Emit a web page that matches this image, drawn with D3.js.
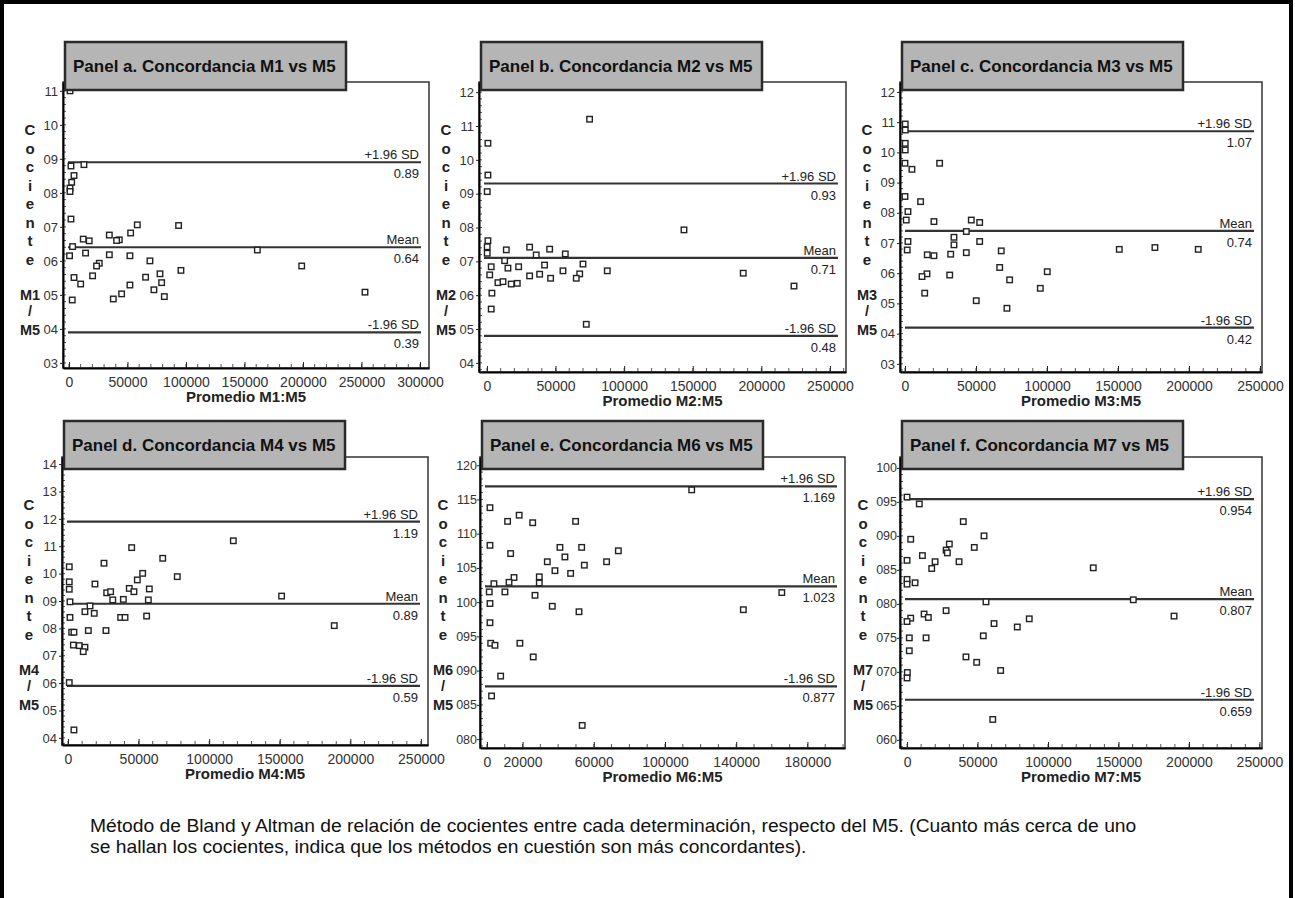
<!DOCTYPE html>
<html>
<head>
<meta charset="utf-8">
<script src="https://cdn.jsdelivr.net/npm/d3@7"></script>
<style>
body { margin: 0; background: #fff; }
svg { display: block; font-family: "Liberation Sans", Arial, Helvetica, sans-serif; }
</style>
</head>
<body>
<svg id="chart" width="1295" height="898"></svg>
<script>
// ---- data ----
var titles = ["Panel a. Concordancia M1 vs M5", "Panel b. Concordancia M2 vs M5", "Panel c. Concordancia M3 vs M5",
              "Panel d. Concordancia M4 vs M5", "Panel e. Concordancia M6 vs M5", "Panel f. Concordancia M7 vs M5"];
var methods = ["M1", "M2", "M3", "M4", "M6", "M7"];
var limitNames = ["+1.96 SD", "Mean", "-1.96 SD"];

var limitsA = [0.89, 0.64, 0.39];
var limitsB = [0.93, 0.71, 0.48];
var limitsC = [1.07, 0.74, 0.42];
var limitsD = [1.19, 0.89, 0.59];
var limitsE = [1.169, 1.023, 0.877];
var limitsF = [0.954, 0.807, 0.659];

var ptsA = [[1700,0.879],[12800,0.883],[4300,0.851],[2300,0.831],[900,0.814],[900,0.804],[1700,0.723],[12200,0.664],[17300,0.659],[34500,0.676],[43000,0.662],[40700,0.66],[52700,0.682],[58400,0.706],[93700,0.704],[3100,0.642],[500,0.615],[14200,0.623],[34500,0.618],[52100,0.615],[69200,0.6],[25900,0.593],[23600,0.585],[95700,0.572],[20200,0.556],[4300,0.551],[10000,0.532],[65500,0.552],[77800,0.562],[79200,0.536],[52100,0.529],[72600,0.515],[81500,0.495],[45000,0.503],[37900,0.488],[2800,0.485],[161000,0.632],[198900,0.585],[253000,0.508],[900,1.10]];
var ptsB = [[74800,1.12],[700,1.049],[700,0.955],[200,0.906],[700,0.761],[200,0.743],[200,0.724],[14100,0.734],[31100,0.742],[35900,0.719],[45700,0.736],[57100,0.722],[12900,0.702],[3100,0.684],[2000,0.66],[15300,0.68],[23100,0.684],[42000,0.689],[70000,0.692],[31100,0.657],[38400,0.662],[46400,0.65],[55400,0.672],[67600,0.663],[65100,0.65],[87700,0.672],[8000,0.637],[11700,0.64],[17700,0.633],[22100,0.635],[3600,0.606],[3100,0.559],[72400,0.514],[143600,0.793],[186800,0.665],[223800,0.627]];
var ptsC = [[200,1.094],[200,1.074],[200,1.03],[200,1.008],[0,0.964],[4900,0.944],[24400,0.964],[0,0.854],[11000,0.837],[2100,0.804],[900,0.776],[20400,0.771],[46700,0.776],[52600,0.768],[43200,0.738],[34500,0.719],[34500,0.694],[52600,0.705],[2100,0.705],[1600,0.677],[15700,0.661],[20400,0.658],[32200,0.663],[43200,0.668],[67800,0.674],[66700,0.619],[15500,0.598],[12000,0.589],[31500,0.594],[100200,0.605],[73700,0.578],[95300,0.55],[13900,0.534],[50200,0.509],[71800,0.484],[150900,0.679],[176000,0.685],[206500,0.679]];
var ptsD = [[117100,1.12],[45100,1.095],[67100,1.056],[25500,1.038],[900,1.025],[77400,0.989],[52900,1.001],[49100,0.977],[900,0.97],[19100,0.962],[900,0.943],[27400,0.93],[30200,0.934],[43400,0.946],[46700,0.934],[57600,0.944],[31700,0.904],[39200,0.906],[56900,0.904],[1400,0.897],[15600,0.882],[12000,0.861],[18600,0.855],[1400,0.84],[37300,0.84],[40400,0.84],[55700,0.845],[2600,0.786],[4200,0.786],[14400,0.792],[26900,0.792],[3800,0.739],[8000,0.737],[12000,0.731],[10800,0.715],[900,0.602],[4200,0.429],[151300,0.918],[188600,0.81]];
var ptsE = [[115000,1.164],[1700,1.138],[18100,1.127],[11600,1.118],[25700,1.116],[49800,1.118],[1700,1.083],[41000,1.08],[53200,1.08],[13300,1.071],[73800,1.075],[43800,1.066],[33900,1.059],[67200,1.059],[54700,1.054],[38200,1.046],[47000,1.042],[29400,1.037],[15200,1.036],[29400,1.028],[12400,1.029],[3900,1.027],[1300,1.015],[10100,1.015],[27000,1.01],[1700,0.998],[36700,0.994],[51700,0.986],[144000,0.989],[165600,1.014],[1700,0.97],[2100,0.94],[4500,0.937],[18500,0.94],[26000,0.92],[7700,0.892],[2600,0.863],[53500,0.82]];
var ptsF = [[0,0.957],[8700,0.947],[39900,0.921],[54600,0.9],[2600,0.895],[47700,0.883],[30000,0.888],[27700,0.879],[28600,0.875],[10900,0.871],[17500,0.852],[19900,0.862],[36900,0.862],[0,0.864],[132100,0.853],[0,0.836],[0,0.829],[5700,0.831],[56000,0.803],[160500,0.806],[27700,0.79],[12100,0.785],[15100,0.78],[2600,0.779],[0,0.774],[189400,0.782],[61700,0.771],[86700,0.778],[78200,0.766],[1600,0.75],[13500,0.75],[54100,0.753],[1600,0.731],[41800,0.722],[49400,0.714],[66400,0.702],[200,0.699],[0,0.691],[60800,0.63]];

var xTicks250 = [0, 50000, 100000, 150000, 200000, 250000];
var xTicksA = [0, 50000, 100000, 150000, 200000, 250000, 300000];
var xTicksE = [0, 20000, 60000, 100000, 140000, 180000];
var yTicksA = [0.3, 0.4, 0.5, 0.6, 0.7, 0.8, 0.9, 1.0, 1.1];
var yTicksB = [0.4, 0.5, 0.6, 0.7, 0.8, 0.9, 1.0, 1.1, 1.2];
var yTicksC = [0.3, 0.4, 0.5, 0.6, 0.7, 0.8, 0.9, 1.0, 1.1, 1.2];
var yTicksD = [0.4, 0.5, 0.6, 0.7, 0.8, 0.9, 1.0, 1.1, 1.2, 1.3, 1.4];
var yTicksE = [0.80, 0.85, 0.90, 0.95, 1.00, 1.05, 1.10, 1.15, 1.20];
var yTicksF = [0.60, 0.65, 0.70, 0.75, 0.80, 0.85, 0.90, 0.95, 1.00];

var caption = ["Método de Bland y Altman de relación de cocientes entre cada determinación, respecto del M5. (Cuanto más cerca de uno",
               "se hallan los cocientes, indica que los métodos en cuestión son más concordantes)."];

// ---- layout ----
var panels = [
    {pts: ptsA, lim: limitsA, xt: xTicksA,   yt: yTicksA, xd: [-5100, 307700], yd: [0.285, 1.126], x: 63,  y: 82,  w: 366, h: 286, by: 42,  dig: 2},
    {pts: ptsB, lim: limitsB, xt: xTicks250, yt: yTicksB, xd: [-5800, 261700], yd: [0.373, 1.230], x: 479, y: 82,  w: 367, h: 290, by: 42,  dig: 2},
    {pts: ptsC, lim: limitsC, xt: xTicks250, yt: yTicksC, xd: [-3500, 251400], yd: [0.273, 1.233], x: 900, y: 82,  w: 362, h: 290, by: 42,  dig: 2},
    {pts: ptsD, lim: limitsD, xt: xTicks250, yt: yTicksD, xd: [-4250, 255000], yd: [0.374, 1.426], x: 62,  y: 457, w: 366, h: 288, by: 421, dig: 2},
    {pts: ptsE, lim: limitsE, xt: xTicksE,   yt: yTicksE, xd: [-3900, 201100], yd: [0.787, 1.212], x: 480, y: 457, w: 365, h: 291, by: 421, dig: 3},
    {pts: ptsF, lim: limitsF, xt: xTicks250, yt: yTicksF, xd: [-5000, 251800], yd: [0.588, 1.016], x: 900, y: 457, w: 362, h: 291, by: 421, dig: 3}
];

var svg = d3.select("#chart");

// outer frame (left, top, right)
svg.append("path")
    .attr("d", "M2,898 L2,2 L1291,2 L1291,898")
    .attr("fill", "none")
    .attr("stroke", "#000")
    .attr("stroke-width", 4);

panels.forEach(function(p, i) {
    var g = svg.append("g").attr("transform", "translate(" + p.x + "," + p.y + ")");
    var x = d3.scaleLinear().domain(p.xd).range([0, p.w]);
    var y = d3.scaleLinear().domain(p.yd).range([p.h, 0]);
    var fmt = p.dig === 2 ? function(v) { return d3.format("02d")(Math.round(v * 10)); }
                          : function(v) { return d3.format("03d")(Math.round(v * 100)); };
    var ytx = p.dig === 2 ? -33 : -37;

    // plot frame
    g.append("rect")
        .attr("width", p.w).attr("height", p.h)
        .attr("fill", "none")
        .attr("stroke", "#333")
        .attr("stroke-width", 1.5);

    // minor ticks
    var minorY = y.ticks(p.dig === 2 ? 45 : 40);
    g.selectAll(".my").data(minorY).enter().append("line")
        .attr("x1", 0).attr("x2", 3)
        .attr("y1", d => y(d)).attr("y2", d => y(d))
        .attr("stroke", "#555").attr("stroke-width", 1);
    g.selectAll(".mx").data(x.ticks(25).filter(d => d >= 0)).enter().append("line")
        .attr("x1", d => x(d)).attr("x2", d => x(d))
        .attr("y1", p.h).attr("y2", p.h - 4)
        .attr("stroke", "#555").attr("stroke-width", 1);

    // axes
    var ya = g.append("g")
        .call(d3.axisLeft(y).tickValues(p.yt).tickSize(3).tickSizeOuter(0).tickFormat(fmt));
    ya.select(".domain").attr("stroke", "#000").attr("stroke-width", 2);
    ya.selectAll(".tick line").attr("stroke", "#222");
    ya.selectAll(".tick text").attr("font-size", p.dig === 2 ? 13 : 12.5).attr("fill", "#333")
        .attr("x", p.dig === 2 ? -5 : -3)
        .attr("font-family", "'Liberation Sans', Arial, sans-serif");

    var xa = g.append("g").attr("transform", "translate(0," + p.h + ")")
        .call(d3.axisBottom(x).tickValues(p.xt).tickSize(-6).tickSizeOuter(0).tickFormat(d3.format("d")));
    xa.select(".domain").attr("stroke", "#000").attr("stroke-width", 2);
    xa.selectAll(".tick line").attr("stroke", "#222");
    xa.selectAll(".tick text").attr("font-size", 14).attr("fill", "#333").attr("y", 9)
        .attr("font-family", "'Liberation Sans', Arial, sans-serif");

    // x axis title
    g.append("text")
        .attr("x", p.w / 2).attr("y", p.h + 34)
        .attr("text-anchor", "middle")
        .attr("font-size", 15).attr("font-weight", "bold").attr("fill", "#222")
        .text("Promedio " + methods[i] + ":M5");

    // stacked y title
    var letters = "Cociente".split("");
    g.selectAll(".yl").data(letters).enter().append("text")
        .attr("x", ytx).attr("y", (d, k) => 53 + k * 18.5)
        .attr("text-anchor", "middle")
        .attr("font-size", 15).attr("font-weight", "bold").attr("fill", "#222")
        .text(d => d);
    g.selectAll(".ym").data([methods[i], "/", "M5"]).enter().append("text")
        .attr("x", ytx).attr("y", (d, k) => [218, 234, 253][k])
        .attr("text-anchor", "middle")
        .attr("font-size", 14.5).attr("font-weight", "bold").attr("fill", "#222")
        .text(d => d);

    // limit lines
    var x0 = 5, x1 = p.w - 8;
    g.selectAll(".lim").data(p.lim).enter().append("line")
        .attr("x1", x0).attr("x2", x1)
        .attr("y1", d => y(d)).attr("y2", d => y(d))
        .attr("stroke", "#333").attr("stroke-width", 2.2);
    g.selectAll(".limn").data(p.lim).enter().append("text")
        .attr("x", p.w - 10).attr("y", d => y(d) - 3)
        .attr("text-anchor", "end")
        .attr("font-size", 13).attr("fill", "#222")
        .text((d, k) => limitNames[k]);
    g.selectAll(".limv").data(p.lim).enter().append("text")
        .attr("x", p.w - 10).attr("y", d => y(d) + 16)
        .attr("text-anchor", "end")
        .attr("font-size", 13).attr("fill", "#222")
        .text(d => String(d));

    // points
    g.selectAll(".pt").data(p.pts).enter().append("rect")
        .attr("x", d => x(d[0]) - 2.75).attr("y", d => y(d[1]) - 2.75)
        .attr("width", 5.5).attr("height", 5.5)
        .attr("fill", "#fff")
        .attr("stroke", "#222").attr("stroke-width", 1.4);

    // title box
    var bx = p.x + 2, bw = 281, bh = 48;
    svg.append("rect")
        .attr("x", bx).attr("y", p.by).attr("width", bw).attr("height", bh)
        .attr("fill", "#b5b5b5")
        .attr("stroke", "#2a2a2a").attr("stroke-width", 2.5);
    svg.append("text")
        .attr("x", bx + 8).attr("y", p.by + bh / 2 + 6)
        .attr("font-size", 17).attr("font-weight", "bold").attr("fill", "#111")
        .text(titles[i]);
});

// caption: one font size for both lines, sized so the first line spans its width in the picture
var cap = svg.selectAll(".cap").data(caption).enter().append("text")
    .attr("x", 90).attr("y", (d, k) => 832 + k * 21)
    .attr("font-size", 15).attr("fill", "#111")
    .text(d => d);
var natural = cap.node().getComputedTextLength();
cap.attr("font-size", 15 * 1047 / natural);
</script>
</body>
</html>
